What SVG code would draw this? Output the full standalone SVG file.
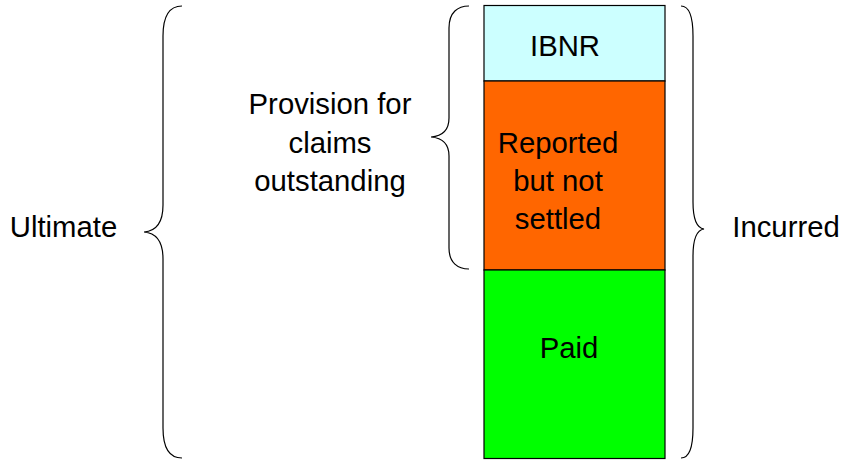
<svg xmlns="http://www.w3.org/2000/svg" width="842" height="461" viewBox="0 0 842 461">
  <style>
    .lbl { font-family: "Liberation Sans", Arial, sans-serif; font-size: 29.3px; fill: #000; text-anchor: middle; }
    .seg { stroke: #000; stroke-width: 1.2; }
    .brace { fill: none; stroke: #000; stroke-width: 1.2; }
  </style>
  <rect width="842" height="461" fill="#fff"/>

  <!-- stacked column -->
  <g id="ibnr">
    <rect class="seg" x="484" y="5.5" width="181" height="75.5" fill="#CCFFFF"/>
    <text class="lbl" x="565" y="56">IBNR</text>
  </g>
  <g id="reported">
    <rect class="seg" x="484" y="81" width="181" height="189" fill="#FF6600"/>
    <text class="lbl" x="558" y="153">Reported</text>
    <text class="lbl" x="558" y="191">but not</text>
    <text class="lbl" x="558" y="229">settled</text>
  </g>
  <g id="paid">
    <rect class="seg" x="484" y="270" width="181" height="188.5" fill="#00FF00"/>
    <text class="lbl" x="569" y="358">Paid</text>
  </g>

  <!-- braces -->
  <g id="connectors">
    <path class="brace" d="M182,6 C170,6 163,16 163,36 L163,205 C163,222 157,231 144,232 C157,233 163,242 163,259 L163,428 C163,448 170,458 182,458"/>
    <path class="brace" d="M469,6 C458,6 449,12 449,28 L449,118 C449,130 443,136 431,137 C443,138 449,144 449,156 L449,248 C449,263 458,269 469,269"/>
    <path class="brace" d="M681,6 C689,6 693,16 693,36 L693,202 C693,219 697,228 704,229 C697,230 693,239 693,256 L693,428 C693,448 689,458 681,458"/>
  </g>

  <g id="provision">
    <text class="lbl" x="330" y="114">Provision for</text>
    <text class="lbl" x="330" y="153">claims</text>
    <text class="lbl" x="330" y="191">outstanding</text>
  </g>
  <g id="ultimate">
    <text class="lbl" x="63.5" y="237">Ultimate</text>
  </g>
  <g id="incurred">
    <text class="lbl" x="786" y="237">Incurred</text>
  </g>
</svg>
